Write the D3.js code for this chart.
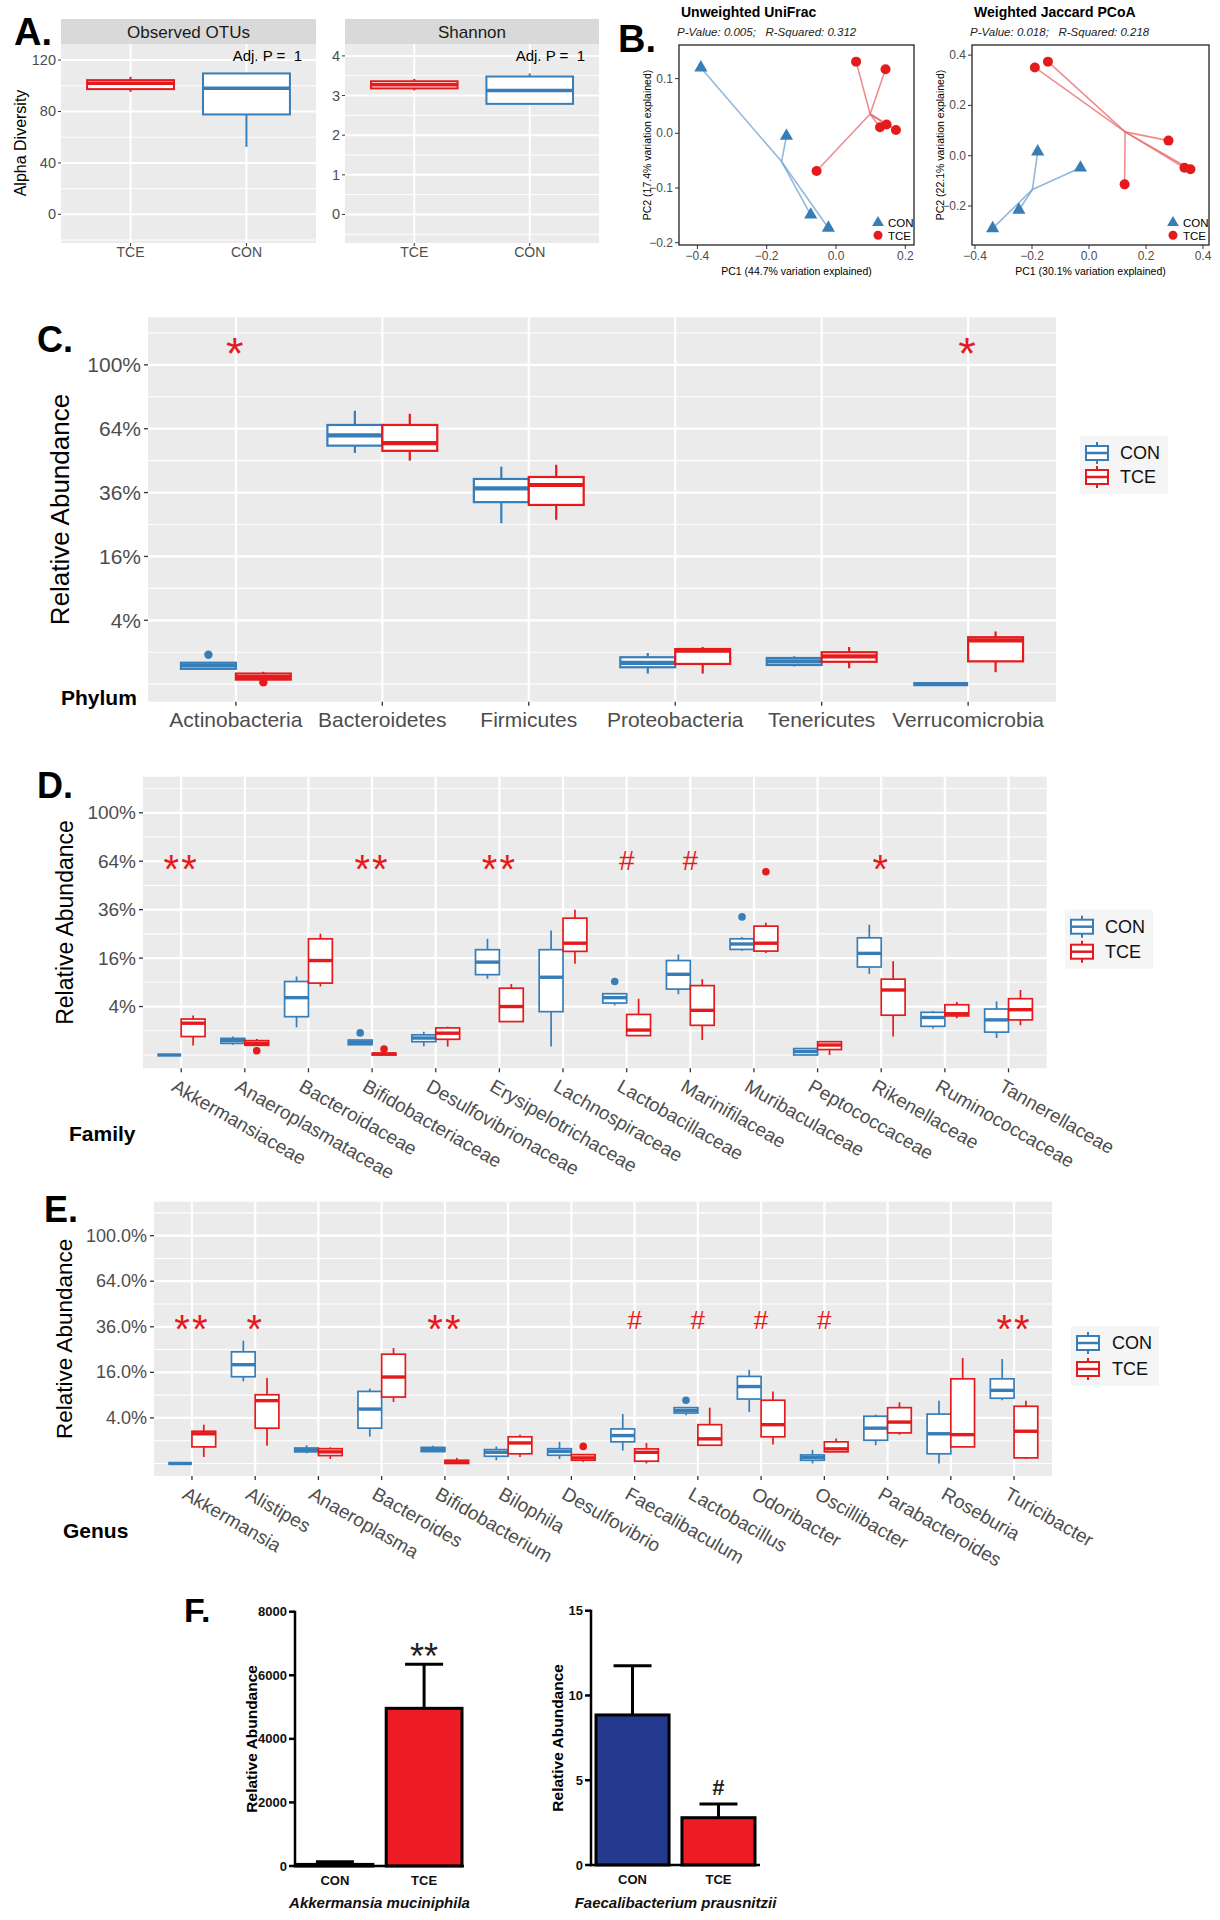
<!DOCTYPE html>
<html><head><meta charset="utf-8">
<script src="https://cdn.jsdelivr.net/npm/d3@7"></script>
<style>body{margin:0;background:#fff}svg{display:block}text{font-family:"Liberation Sans",Arial,sans-serif;white-space:pre}</style>
</head><body><svg id="c" width="1220" height="1920"></svg>
<script>
// ================= DATA =================
// Panel A: alpha diversity, boxes = [lower whisker, Q1, median, Q3, upper whisker]
const alphaGroups = ["TCE", "CON"];
const otusBox = [[95.3, 97.4, 101.9, 104.4, 107.0], [52.5, 77.7, 98.0, 109.6, 109.6]];
const shannonBox = [[3.13, 3.18, 3.27, 3.36, 3.42], [2.79, 2.79, 3.13, 3.48, 3.56]];
const otusTicks = [0, 40, 80, 120];
const shannonTicks = [0, 1, 2, 3, 4];

// Panel B: PCoA coordinates [PC1, PC2]
const unifracCON = [[-0.39, 0.12], [-0.143, -0.005], [-0.073, -0.149], [-0.022, -0.173]];
const unifracTCE = [[0.058, 0.131], [0.143, 0.117], [0.127, 0.011], [0.146, 0.016], [0.173, 0.006], [-0.056, -0.069]];
const jaccardCON = [[-0.18, 0.016], [-0.03, -0.048], [-0.246, -0.216], [-0.338, -0.289]];
const jaccardTCE = [[-0.19, 0.351], [-0.144, 0.374], [0.279, 0.06], [0.335, -0.048], [0.356, -0.054], [0.125, -0.114]];
const unifracXTicks = [-0.4, -0.2, 0.0, 0.2], unifracYTicks = [-0.2, -0.1, 0.0, 0.1];
const jaccardXTicks = [-0.4, -0.2, 0.0, 0.2, 0.4], jaccardYTicks = [-0.2, 0.0, 0.2, 0.4];

// Relative abundance (%) boxes = [lower whisker, Q1, median, Q3, upper whisker]
const pctTicks = [4, 16, 36, 64, 100];
const pctTickLabels = ["4%", "16%", "36%", "64%", "100%"];
const pctTickLabels1 = ["4.0%", "16.0%", "36.0%", "64.0%", "100.0%"];

// Panel C: Phylum
const phylumCats = ["Actinobacteria", "Bacteroidetes", "Firmicutes", "Proteobacteria", "Tenericutes", "Verrucomicrobia"];
const phylumCON = [
  [0.23, 0.23, 0.34, 0.45, 0.45], [52.4, 55.8, 60.7, 65.9, 73.3], [25.4, 32.5, 37.6, 41.3, 46.4],
  [0.11, 0.28, 0.44, 0.71, 0.95], [0.31, 0.36, 0.51, 0.67, 0.76], [0, 0, 0, 0, 0]];
const phylumTCE = [
  [0.02, 0.02, 0.05, 0.11, 0.15], [49.0, 53.4, 57.0, 65.9, 71.7], [26.5, 31.5, 38.9, 42.1, 47.2],
  [0.11, 0.40, 1.10, 1.21, 1.35], [0.25, 0.49, 0.76, 1.00, 1.35], [0.14, 0.51, 1.88, 2.16, 2.72]];
const phylumOutCON = [["Actinobacteria", 0.85]];
const phylumOutTCE = [["Actinobacteria", 0.003]];
const phylumSig = [["Actinobacteria", "*"], ["Verrucomicrobia", "*"]];
const phylumSigY = 114.3;

// Panel D: Family
const familyCats = ["Akkermansiaceae", "Anaeroplasmataceae", "Bacteroidaceae", "Bifidobacteriaceae", "Desulfovibrionaceae",
  "Erysipelotrichaceae", "Lachnospiraceae", "Lactobacillaceae", "Marinifilaceae", "Muribaculaceae", "Peptococcaceae",
  "Rikenellaceae", "Ruminococcaceae", "Tannerellaceae"];
const familyCON = [
  [0, 0, 0, 0, 0], [0.18, 0.23, 0.35, 0.47, 0.58], [1.3, 2.5, 5.6, 9.2, 10.5], [0.18, 0.18, 0.27, 0.38, 0.38],
  [0.13, 0.30, 0.49, 0.69, 0.92], [9.9, 11.0, 14.7, 18.9, 23.0], [0.12, 3.2, 10.3, 18.9, 26.4], [4.2, 4.6, 5.6, 6.4, 6.4],
  [6.3, 7.4, 11.1, 15.2, 17.2], [18.5, 19.0, 21.0, 23.0, 23.7], [0, 0, 0.02, 0.07, 0.07], [11.2, 13.2, 17.6, 23.4, 28.9],
  [1.2, 1.4, 2.4, 3.1, 3.3], [0.49, 0.89, 2.1, 3.6, 4.9]];
const familyTCE = [
  [0.15, 0.58, 1.72, 2.2, 2.66], [0.16, 0.16, 0.23, 0.35, 0.44], [8.0, 8.8, 15.2, 23.0, 25.1], [0, 0, 0.002, 0.005, 0.005],
  [0.12, 0.42, 0.81, 1.25, 1.37], [1.9, 1.9, 4.0, 7.6, 8.6], [14.2, 18.3, 21.3, 31.9, 36.0], [0.64, 0.64, 1.06, 2.8, 5.4],
  [0.38, 1.5, 3.4, 8.2, 9.8], [17.7, 18.4, 21.3, 28.3, 29.8], [0, 0.05, 0.17, 0.3, 0.3], [0.58, 2.7, 7.2, 9.8, 15.0],
  [2.3, 2.6, 2.9, 4.3, 4.8], [1.5, 2.1, 3.5, 5.4, 7.2]];
const familyOutCON = [["Bifidobacteriaceae", 0.83], ["Lactobacillaceae", 9.2], ["Muribaculaceae", 32.5]];
const familyOutTCE = [["Anaeroplasmataceae", 0.03], ["Bifidobacteriaceae", 0.06], ["Muribaculaceae", 57.2]];
const familySig = [["Akkermansiaceae", "**"], ["Bifidobacteriaceae", "**"], ["Erysipelotrichaceae", "**"],
  ["Lactobacillaceae", "#"], ["Marinifilaceae", "#"], ["Rikenellaceae", "*"]];
const familySigY = 64.7;

// Panel E: Genus
const genusCats = ["Akkermansia", "Alistipes", "Anaeroplasma", "Bacteroides", "Bifidobacterium", "Bilophila", "Desulfovibrio",
  "Faecalibaculum", "Lactobacillus", "Odoribacter", "Oscillibacter", "Parabacteroides", "Roseburia", "Turicibacter"];
const genusCON = [
  [0, 0, 0, 0, 0], [13.0, 14.5, 18.8, 24.0, 29.0], [0.2, 0.26, 0.36, 0.46, 0.64], [1.4, 2.4, 5.7, 10.0, 10.8],
  [0.25, 0.27, 0.37, 0.5, 0.6], [0.02, 0.1, 0.24, 0.37, 0.56], [0.04, 0.13, 0.28, 0.42, 0.9], [0.32, 0.9, 1.5, 2.3, 4.7],
  [4.5, 4.9, 5.4, 6.0, 6.0], [5.1, 8.0, 11.4, 14.6, 16.9], [0, 0.02, 0.07, 0.14, 0.36], [0.64, 1.04, 2.4, 4.3, 4.6],
  [0, 0.18, 1.7, 4.7, 7.6], [7.7, 8.2, 10.3, 13.8, 21.0]];
const genusTCE = [
  [0.08, 0.53, 1.7, 2.0, 2.9], [0.6, 2.4, 7.6, 9.1, 14.1], [0.04, 0.12, 0.26, 0.42, 0.5], [7.3, 8.5, 14.4, 23.0, 25.7],
  [0, 0, 0.005, 0.02, 0.06], [0.08, 0.18, 0.81, 1.37, 1.6], [0.005, 0.02, 0.06, 0.15, 0.15], [0, 0.01, 0.24, 0.41, 0.81],
  [0.64, 0.64, 1.17, 2.9, 6.0], [0.69, 1.37, 2.9, 7.7, 10.0], [0.26, 0.26, 0.41, 0.9, 1.2], [1.6, 1.8, 3.3, 6.0, 7.2],
  [0.53, 0.53, 1.6, 13.8, 21.4], [0.04, 0.06, 2.0, 6.3, 7.6]];
const genusOutCON = [["Lactobacillus", 7.7]];
const genusOutTCE = [["Desulfovibrio", 0.56]];
const genusSig = [["Akkermansia", "**"], ["Alistipes", "*"], ["Bifidobacterium", "**"], ["Faecalibaculum", "#"],
  ["Lactobacillus", "#"], ["Odoribacter", "#"], ["Oscillibacter", "#"], ["Turicibacter", "**"]];
const genusSigY = 39.7;

// Panel F: qPCR bars
const barGroups = ["CON", "TCE"];
const akkMean = [50, 4960], akkSEM = [80, 1390];
const akkTicks = [0, 2000, 4000, 6000, 8000];
const faecMean = [8.85, 2.79], faecSEM = [2.9, 0.81];
const faecTicks = [0, 5, 10, 15];

// ================= DRAWING =================
const svg = d3.select("#c");
svg.append("rect").attr("width", 1220).attr("height", 1920).attr("fill", "#fff");
const BLUE = "#377EB8", RED = "#E41A1C", GRID = "#EBEBEB", GREY30 = "#4D4D4D";

function txt(g, x, y, s, o = {}) {
  const t = g.append("text").attr("x", x).attr("y", y).text(s)
    .attr("font-size", o.fs || 12).attr("fill", o.fill || "#000")
    .attr("text-anchor", o.anchor || "start");
  if (o.fw) t.attr("font-weight", o.fw);
  if (o.style) t.attr("font-style", o.style);
  if (o.db) t.attr("dominant-baseline", o.db);
  if (o.rot) t.attr("transform", `rotate(${o.rot},${x},${y})`);
  if (o.ls) t.attr("letter-spacing", o.ls);
  return t;
}
function line(g, x1, y1, x2, y2, stroke, w, op) {
  const l = g.append("line").attr("x1", x1).attr("y1", y1).attr("x2", x2).attr("y2", y2)
    .attr("stroke", stroke).attr("stroke-width", w);
  if (op !== undefined) l.attr("stroke-opacity", op);
  return l;
}
function drawBox(g, cx, w, q, y, color, lw, mw) {
  line(g, cx, y(q[3]), cx, y(q[4]), color, lw);
  line(g, cx, y(q[1]), cx, y(q[0]), color, lw);
  g.append("rect").attr("x", cx - w / 2).attr("y", y(q[3])).attr("width", w)
    .attr("height", Math.max(0, y(q[1]) - y(q[3]))).attr("fill", "#fff")
    .attr("stroke", color).attr("stroke-width", lw);
  line(g, cx - w / 2, y(q[2]), cx + w / 2, y(q[2]), color, mw);
}

// Panel letters
[["A.", 14, 45, 38], ["B.", 618, 52, 38], ["C.", 37, 352, 36], ["D.", 37, 798, 36], ["E.", 44, 1222, 36], ["F.", 184, 1622, 34]]
  .forEach(([s, x, y, fs]) => txt(svg, x, y, s, { fs, fw: "bold" }));

// ---------- Panel A ----------
function alphaFacet(L, R, title, boxes, ticks, dom, adjRight) {
  const T = 44, B = 243, ST = 19;
  const g = svg.append("g");
  const x = d3.scalePoint().domain(alphaGroups).range([L, R]).padding(0.6);
  const y = d3.scaleLinear().domain(dom).range([B, T]);
  g.append("rect").attr("x", L).attr("y", ST).attr("width", R - L).attr("height", T - ST).attr("fill", "#D9D9D9");
  txt(g, (L + R) / 2, (ST + T) / 2 + 6, title, { fs: 17, fill: "#1A1A1A", anchor: "middle" });
  g.append("rect").attr("x", L).attr("y", T).attr("width", R - L).attr("height", B - T).attr("fill", GRID);
  const d = ticks[1] - ticks[0];
  for (let v = ticks[0] - d / 2; v < dom[1]; v += d) if (v > dom[0]) line(g, L, y(v), R, y(v), "#fff", 1);
  ticks.forEach(v => line(g, L, y(v), R, y(v), "#fff", 2));
  alphaGroups.forEach(k => line(g, x(k), T, x(k), B, "#fff", 2));
  const bw = x.step() * 0.75;
  alphaGroups.forEach((k, i) => drawBox(g, x(k), bw, boxes[i], y, k === "TCE" ? RED : BLUE, 2, 3.5));
  ticks.forEach(v => {
    line(g, L - 3, y(v), L, y(v), "#333", 1);
    txt(g, L - 5, y(v), String(v), { fs: 14.5, fill: GREY30, anchor: "end", db: "central" });
  });
  alphaGroups.forEach(k => {
    line(g, x(k), B, x(k), B + 3, "#333", 1);
    txt(g, x(k), B + 14, k, { fs: 14, fill: GREY30, anchor: "middle" });
  });
  txt(g, adjRight, 61, "Adj. P =  1", { fs: 15, anchor: "end" });
}
alphaFacet(61, 316, "Observed OTUs", otusBox, otusTicks, [-22.3, 132.5], 302);
alphaFacet(345, 599, "Shannon", shannonBox, shannonTicks, [-0.72, 4.3], 585);
txt(svg, 20, 143, "Alpha Diversity", { fs: 16, anchor: "middle", rot: -90, db: "central" });

// ---------- Panel B ----------
function pcoa(c) {
  const g = svg.append("g");
  const x = d3.scaleLinear().domain(c.xd).range([c.L, c.R]);
  const y = d3.scaleLinear().domain(c.yd).range([c.B, c.T]);
  txt(g, c.L + 2, 17, c.title, { fs: 14, fw: "bold" });
  txt(g, c.L - 2, 36, c.sub, { fs: 11.5, style: "italic", fill: "#222" });
  const groups = [[c.con, BLUE, "#6E9FCF"], [c.tce, RED, "#E8676A"]];
  groups.forEach(([pts, col, lc]) => {
    const cx = d3.mean(pts, p => p[0]), cy = d3.mean(pts, p => p[1]);
    pts.forEach(p => line(g, x(cx), y(cy), x(p[0]), y(p[1]), lc, 1.6, 0.75));
  });
  c.con.forEach(p => g.append("path").attr("d", d3.symbol(d3.symbolTriangle, 75)())
    .attr("transform", `translate(${x(p[0])},${y(p[1])})`).attr("fill", BLUE));
  c.tce.forEach(p => g.append("circle").attr("cx", x(p[0])).attr("cy", y(p[1])).attr("r", 5).attr("fill", RED));
  g.append("rect").attr("x", c.L).attr("y", c.T).attr("width", c.R - c.L).attr("height", c.B - c.T)
    .attr("fill", "none").attr("stroke", "#222").attr("stroke-width", 1.3);
  c.xt.forEach(v => {
    line(g, x(v), c.B, x(v), c.B + 4, "#333", 1);
    txt(g, x(v), c.B + 14.5, d3.format(".1f")(v), { fs: 12, fill: GREY30, anchor: "middle" });
  });
  c.yt.forEach(v => {
    line(g, c.L - 4, y(v), c.L, y(v), "#333", 1);
    txt(g, c.L - 6, y(v), d3.format(".1f")(v), { fs: 12, fill: GREY30, anchor: "end", db: "central" });
  });
  txt(g, (c.L + c.R) / 2, 274.5, c.xlab, { fs: 10.5, anchor: "middle" });
  txt(g, c.ylx, (c.T + c.B) / 2, c.ylab, { fs: 10.5, anchor: "middle", rot: -90, db: "central" });
  const lx = c.R - 36;
  g.append("path").attr("d", d3.symbol(d3.symbolTriangle, 60)()).attr("transform", `translate(${lx},222.7)`).attr("fill", BLUE);
  g.append("circle").attr("cx", lx).attr("cy", 235.3).attr("r", 4.5).attr("fill", RED);
  txt(g, lx + 10, 222.7, "CON", { fs: 11.5, db: "central" });
  txt(g, lx + 10, 235.5, "TCE", { fs: 11.5, db: "central" });
}
pcoa({ L: 679, R: 914, T: 45, B: 245, xd: [-0.4531, 0.2251], yd: [-0.2042, 0.1614], con: unifracCON, tce: unifracTCE,
  xt: unifracXTicks, yt: unifracYTicks, title: "Unweighted UniFrac", sub: "P-Value: 0.005;   R-Squared: 0.312",
  xlab: "PC1 (44.7% variation explained)", ylab: "PC2 (17.4% variation explained)", ylx: 647 });
pcoa({ L: 972, R: 1209, T: 45, B: 245, xd: [-0.4105, 0.4211], yd: [-0.3551, 0.4402], con: jaccardCON, tce: jaccardTCE,
  xt: jaccardXTicks, yt: jaccardYTicks, title: "Weighted Jaccard PCoA", sub: "P-Value: 0.018;   R-Squared: 0.218",
  xlab: "PC1 (30.1% variation explained)", ylab: "PC2 (22.1% variation explained)", ylx: 940 });

// ---------- Panels C, D, E ----------
function boxPanel(c) {
  const g = svg.append("g");
  const x = d3.scalePoint().domain(c.cats).range([c.L, c.R]).padding(0.6);
  const st = x.step();
  const y = d3.scaleSqrt().domain([-(0.055 * 0.055) * 100, 1.149 * 1.149 * 100]).range([c.B, c.T]);
  g.append("rect").attr("x", c.L).attr("y", c.T).attr("width", c.R - c.L).attr("height", c.B - c.T).attr("fill", GRID);
  const sMaj = pctTicks.map(v => Math.sqrt(v / 100));
  const d = sMaj[1] - sMaj[0];
  const minorS = [0];
  for (let k = -1; k < sMaj.length; k++) minorS.push(sMaj[0] + (k + 0.5) * d);
  minorS.forEach(s => { const yy = y(s * s * 100); if (yy >= c.T && yy <= c.B) line(g, c.L, yy, c.R, yy, "#fff", 1.1); });
  pctTicks.forEach(v => line(g, c.L, y(v), c.R, y(v), "#fff", 2.2));
  c.cats.forEach(k => line(g, x(k), c.T, x(k), c.B, "#fff", 2.2));
  const bw = st * 0.375;
  c.cats.forEach((k, i) => {
    drawBox(g, x(k) - bw / 2, bw, c.con[i], y, BLUE, c.lw, c.mw);
    drawBox(g, x(k) + bw / 2, bw, c.tce[i], y, RED, c.lw, c.mw);
  });
  c.outCon.forEach(([k, v]) => g.append("circle").attr("cx", x(k) - bw / 2).attr("cy", y(v)).attr("r", c.or).attr("fill", BLUE));
  c.outTce.forEach(([k, v]) => g.append("circle").attr("cx", x(k) + bw / 2).attr("cy", y(v)).attr("r", c.or).attr("fill", RED));
  c.sig.forEach(([k, s]) => {
    const hash = s === "#";
    const fs = hash ? c.hashFs : c.starFs;
    txt(g, x(k), y(c.sigY) + (hash ? 0.36 : 0.58) * fs, s, { fs, fill: RED, anchor: "middle", ls: hash ? null : 2 });
  });
  pctTicks.forEach((v, i) => {
    line(g, c.L - 4, y(v), c.L, y(v), "#333", 1.3);
    txt(g, c.L - 7, y(v), c.tickLabels[i], { fs: c.tfs, fill: GREY30, anchor: "end", db: "central" });
  });
  c.cats.forEach(k => {
    line(g, x(k), c.B, x(k), c.B + 4, "#333", 1.3);
    if (c.rot) txt(g, x(k) - 4, c.B + 10, k, { fs: c.xfs, fill: GREY30, db: "hanging", rot: 30 });
    else txt(g, x(k), c.B + 25, k, { fs: c.xfs, fill: GREY30, anchor: "middle" });
  });
  txt(g, c.ytX, (c.T + c.B) / 2, "Relative Abundance", { fs: c.ytFs, anchor: "middle", rot: -90, db: "central" });
  txt(g, c.gX, c.gY, c.gLab, { fs: 21, fw: "bold" });
  // legend
  const kx = c.legX, kw = 22;
  g.append("rect").attr("x", kx - 17).attr("y", c.legY[0] - 17).attr("width", 88).attr("height", c.legY[1] - c.legY[0] + 34)
    .attr("fill", "#F5F5F5");
  [["CON", BLUE], ["TCE", RED]].forEach(([lab, col], i) => {
    const ky = c.legY[i];
    line(g, kx, ky - 11, kx, ky + 11, col, 2);
    g.append("rect").attr("x", kx - kw / 2).attr("y", ky - 7).attr("width", kw).attr("height", 14)
      .attr("fill", "#fff").attr("stroke", col).attr("stroke-width", 2);
    line(g, kx - kw / 2, ky, kx + kw / 2, ky, col, 2.5);
    txt(g, c.legTX, ky, lab, { fs: 18, fill: "#111", db: "central" });
  });
}
boxPanel({ cats: phylumCats, con: phylumCON, tce: phylumTCE, outCon: phylumOutCON, outTce: phylumOutTCE,
  sig: phylumSig, sigY: phylumSigY, starFs: 45, hashFs: 30, L: 148, R: 1056, T: 317.3, B: 701.7,
  tickLabels: pctTickLabels, tfs: 21, xfs: 21, rot: false, lw: 2.2, mw: 4.2, or: 4.2,
  ytX: 60, ytFs: 26, gLab: "Phylum", gX: 61, gY: 705, legX: 1097, legY: [453, 477], legTX: 1120 });
boxPanel({ cats: familyCats, con: familyCON, tce: familyTCE, outCon: familyOutCON, outTce: familyOutTCE,
  sig: familySig, sigY: familySigY, starFs: 40, hashFs: 28, L: 143, R: 1046.7, T: 776.7, B: 1068.3,
  tickLabels: pctTickLabels, tfs: 19, xfs: 19, rot: true, lw: 1.7, mw: 3.4, or: 3.8,
  ytX: 65, ytFs: 23, gLab: "Family", gX: 69, gY: 1141, legX: 1082, legY: [926.7, 951.7], legTX: 1105 });
boxPanel({ cats: genusCats, con: genusCON, tce: genusTCE, outCon: genusOutCON, outTce: genusOutTCE,
  sig: genusSig, sigY: genusSigY, starFs: 40, hashFs: 26, L: 154, R: 1052, T: 1201.7, B: 1476,
  tickLabels: pctTickLabels1, tfs: 18, xfs: 19, rot: true, lw: 1.7, mw: 3.4, or: 3.8,
  ytX: 65, ytFs: 22.5, gLab: "Genus", gX: 63, gY: 1538, legX: 1088, legY: [1343, 1369], legTX: 1112 });

// ---------- Panel F ----------
function barPanel(c) {
  const g = svg.append("g");
  const x = d3.scaleBand().domain(barGroups).range(c.band).paddingInner(0.15).paddingOuter(0);
  const y = d3.scaleLinear().domain([0, c.ticks[c.ticks.length - 1]]).range([c.B, c.T]);
  const fills = ["#243A8E", "#ED1C24"];
  barGroups.forEach((k, i) => {
    const cx = x(k) + x.bandwidth() / 2;
    line(g, cx, y(c.mean[i]), cx, y(c.mean[i] + c.sem[i]), "#000", 3);
    line(g, cx - 19, y(c.mean[i] + c.sem[i]), cx + 19, y(c.mean[i] + c.sem[i]), "#000", 3);
    g.append("rect").attr("x", x(k)).attr("y", y(c.mean[i])).attr("width", x.bandwidth())
      .attr("height", y(0) - y(c.mean[i])).attr("fill", fills[i]).attr("stroke", "#000").attr("stroke-width", 3);
    txt(g, cx, c.B + 19, k, { fs: 13, fw: "bold", anchor: "middle", fill: "#111" });
  });
  line(g, c.AX, c.T - 1, c.AX, c.B + 1.25, "#000", 2.5);
  line(g, c.AX - 1.25, c.B, c.XR, c.B, "#000", 2.5);
  c.ticks.forEach(v => {
    line(g, c.AX - 6, y(v), c.AX, y(v), "#000", 2.5);
    txt(g, c.AX - 8, y(v), String(v), { fs: 13, fw: "bold", anchor: "end", db: "central", fill: "#111" });
  });
  txt(g, c.ylx, (c.T + c.B) / 2, "Relative Abundance", { fs: 15.5, fw: "bold", anchor: "middle", rot: -90, db: "central" });
  txt(g, (c.AX + c.XR) / 2, 1908, c.title, { fs: 15, fw: "bold", style: "italic", anchor: "middle", fill: "#111" });
  const si = c.sigIdx, scx = x(barGroups[si]) + x.bandwidth() / 2;
  const sy = y(c.mean[si] + c.sem[si]) - c.sigOff;
  txt(g, scx, sy + (c.sig === "#" ? 0.36 : 0.58) * c.sigFs, c.sig, { fs: c.sigFs, anchor: "middle", fill: "#222", fw: c.sig === "#" ? "bold" : "normal" });
}
barPanel({ mean: akkMean, sem: akkSEM, ticks: akkTicks, AX: 295, XR: 464, band: [297, 462], T: 1611.7, B: 1866,
  ylx: 252, title: "Akkermansia muciniphila", sig: "**", sigIdx: 1, sigFs: 36, sigOff: 16 });
barPanel({ mean: faecMean, sem: faecSEM, ticks: faecTicks, AX: 591, XR: 760, band: [596, 755], T: 1610.7, B: 1865,
  ylx: 558, title: "Faecalibacterium prausnitzii", sig: "#", sigIdx: 1, sigFs: 22, sigOff: 17 });
</script></body></html>
